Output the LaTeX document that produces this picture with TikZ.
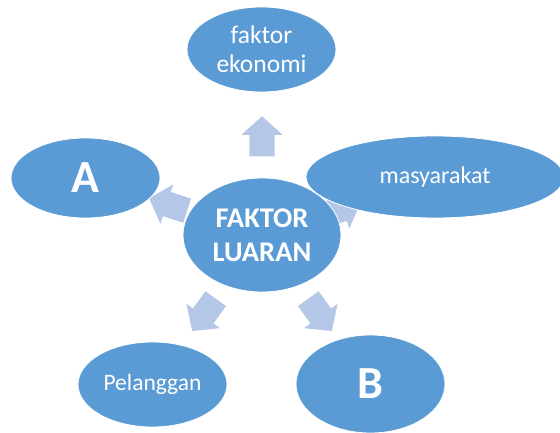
\documentclass[tikz,border=0pt]{standalone}
\usepackage{fontspec}
\setmainfont{Carlito}
\usetikzlibrary{shapes.geometric,shapes.arrows,calc}

\definecolor{vbzbdv}{rgb}{0.357, 0.608, 0.835}
\definecolor{bucxex}{rgb}{0.706, 0.78, 0.906}

\begin{document}
\begin{tikzpicture}[x=1pt,y=1pt,
        bulat/.style={ellipse,fill=vbzbdv,draw=white,line width=0.8pt,inner sep=0pt,text=white,align=center},
        panah/.style={single arrow,fill=bucxex,inner xsep=0pt,inner ysep=12.5pt,minimum height=40pt,
            single arrow head extend=8pt,single arrow tip angle=96}]
        \useasboundingbox (0, 0) rectangle (560, 433);

        \coordinate (tengah) at (262, 198);
        \foreach \a/\r in {90/93, 162/93, 234/93, 306/93, 18/78}
        \node[panah,rotate=\a] (panah\a) at ($(tengah)+(\a:\r)$) {}; % anak panah

        \node[bulat,minimum width=158pt,minimum height=114pt,font=\bfseries\fontsize{28.5}{34}\selectfont] (pusat) at (tengah) {FAKTOR\\LUARAN};

        \node[bulat,minimum width=149pt,minimum height=85pt,font=\fontsize{25.5}{29}\selectfont] (ekonomi) at (261.5, 383.5) {faktor\\ekonomi};
        \node[bulat,minimum width=149pt,minimum height=80pt,font=\bfseries\fontsize{46}{50}\selectfont] (a) at (85.5, 255) {A};
        \node[bulat,minimum width=258pt,minimum height=82pt,font=\fontsize{24}{29}\selectfont] (masyarakat) at (435, 256) {masyarakat};
        \node[bulat,minimum width=149pt,minimum height=85pt,font=\fontsize{23.5}{28}\selectfont] (pelanggan) at (152.5, 48.5) {Pelanggan};
        \node[bulat,minimum width=149pt,minimum height=98pt,font=\bfseries\fontsize{46}{50}\selectfont] (b) at (370.5, 49) {B};
    \end{tikzpicture}
\end{document}
